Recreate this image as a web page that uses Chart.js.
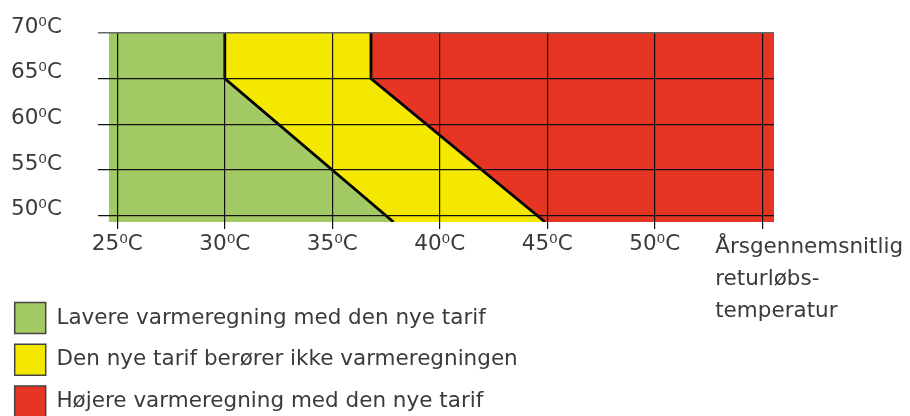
<!DOCTYPE html>
<html lang="da">
<head>
<meta charset="utf-8">
<script src="https://cdn.jsdelivr.net/npm/chart.js@4.4.1/dist/chart.umd.min.js"></script>
<style>
  html, body { margin: 0; padding: 0; background: #fff; overflow: hidden; }
  #wrap { position: relative; width: 910px; height: 427px; }
</style>
</head>
<body>
<div id="wrap"><canvas id="chart"></canvas></div>
<script>
// Grænse grøn/gul og gul/rød (x = returløb, y = fremløb)
const lowerBoundX = [30, 30, 37.85];
const lowerBoundY = [70, 65, 49.3];
const upperBoundX = [36.8, 36.8, 44.9];
const upperBoundY = [70, 65, 49.3];

// Akseudsnit
const xMin = 24.1, xMax = 55.55, fieldStart = 24.6;
const yMin = 49.3, yMax = 70;

const xTickValues = [25, 30, 35, 40, 45, 50, 55];
const xTickLabels = ['25⁰C', '30⁰C', '35⁰C', '40⁰C', '45⁰C', '50⁰C', ''];
const yTickValues = [50, 55, 60, 65, 70];
const yTickLabels = ['50⁰C', '55⁰C', '60⁰C', '65⁰C', '70⁰C'];

const legendLabels = [
    'Lavere varmeregning med den nye tarif',
    'Den nye tarif berører ikke varmeregningen',
    'Højere varmeregning med den nye tarif'
];
const axisTitle = ['Årsgennemsnitlig', 'returløbs-', 'temperatur'];

const FONT = '"DejaVu Sans", "Noto Sans", sans-serif';
const FONT_SIZE = 21.5;
const TEXT = '#3a3a3a';

const toPoints = (xs, ys) => xs.map((x, i) => ({ x: x, y: ys[i] }));

// the area datasets close along the bottom edge so fill:'end' covers the region to the right
const greenPts = [{ x: fieldStart, y: yMax }, { x: xMax, y: yMax }];
const yellowPts = toPoints(lowerBoundX, lowerBoundY).concat([{ x: xMax, y: yMin }]);
const redPts = toPoints(upperBoundX, upperBoundY).concat([{ x: xMax, y: yMin }]);

const axisTitlePlugin = {
    id: 'axisTitle',
    afterDraw(chart) {
        const ctx = chart.ctx;
        const xs = chart.scales.x;
        const left = xs.getPixelForValue(55) - 47;
        const base = chart.chartArea.bottom + 31.3;
        ctx.save();
        ctx.font = FONT_SIZE + 'px ' + FONT;
        ctx.fillStyle = TEXT;
        ctx.textAlign = 'left';
        ctx.textBaseline = 'alphabetic';
        axisTitle.forEach((line, i) => ctx.fillText(line, left, base + i * 31.7));
        ctx.restore();
    }
};

const areaDefaults = { borderWidth: 0, pointRadius: 0, tension: 0 };
const lineDefaults = { borderColor: '#000', borderWidth: 2.8, pointRadius: 0, fill: false, tension: 0, label: '' };

new Chart(document.getElementById('chart'), {
    type: 'line',
    data: {
        datasets: [
            { ...areaDefaults, label: legendLabels[0], data: greenPts, fill: 'start', backgroundColor: '#a2c964', order: 5 },
            { ...areaDefaults, label: legendLabels[1], data: yellowPts, fill: 'end', backgroundColor: '#f5e800', order: 4 },
            { ...areaDefaults, label: legendLabels[2], data: redPts, fill: 'end', backgroundColor: '#e63523', order: 3 },
            { ...lineDefaults, data: toPoints(lowerBoundX, lowerBoundY), order: 1 },
            { ...lineDefaults, data: toPoints(upperBoundX, upperBoundY), order: 1 }
        ]
    },
    options: {
        responsive: true,
        maintainAspectRatio: false,
        animation: false,
        layout: { padding: { left: 4, right: 136, top: 33, bottom: 0 } },
        scales: {
            x: {
                type: 'linear',
                min: xMin,
                max: xMax,
                border: { display: false },
                grid: { color: '#111', lineWidth: 1.2, tickLength: 7, z: 1 },
                ticks: {
                    stepSize: 5,
                    includeBounds: false,
                    padding: 3,
                    color: TEXT,
                    font: { family: FONT, size: FONT_SIZE },
                    maxRotation: 0,
                    autoSkip: false,
                    callback: (v) => {
                        const i = xTickValues.indexOf(v);
                        return i >= 0 ? xTickLabels[i] : '';
                    }
                },
                afterFit: (s) => { s.height = 69.9; s.paddingLeft = 0; s.paddingRight = 0; }
            },
            y: {
                type: 'linear',
                min: yMin,
                max: yMax,
                border: { display: false },
                grid: {
                    color: (c) => c.tick && c.tick.value === yMax ? '#666' : '#111',
                    lineWidth: (c) => c.tick && c.tick.value === yMax ? 1.6 : 1.2,
                    drawTicks: false,
                    z: 1
                },
                ticks: {
                    stepSize: 5,
                    includeBounds: false,
                    padding: 36,
                    labelOffset: -6,
                    color: TEXT,
                    font: { family: FONT, size: FONT_SIZE },
                    callback: (v) => {
                        const i = yTickValues.indexOf(v);
                        return i >= 0 ? yTickLabels[i] : '';
                    }
                },
                afterFit: (s) => { s.width = 94; s.paddingTop = 0; s.paddingBottom = 0; }
            }
        },
        plugins: {
            tooltip: { enabled: false },
            legend: {
                position: 'bottom',
                align: 'start',
                labels: {
                    boxWidth: 31,
                    boxHeight: 31,
                    padding: 10.7,
                    color: TEXT,
                    font: { family: FONT, size: FONT_SIZE },
                    filter: (item) => item.datasetIndex < 3,
                    sort: (a, b) => a.datasetIndex - b.datasetIndex,
                    generateLabels: (chart) => {
                        const items = Chart.defaults.plugins.legend.labels.generateLabels(chart);
                        items.forEach((it) => { it.lineWidth = 1.5; it.strokeStyle = '#444'; });
                        return items;
                    }
                }
            }
        }
    },
    plugins: [axisTitlePlugin]
});
</script>
</body>
</html>
